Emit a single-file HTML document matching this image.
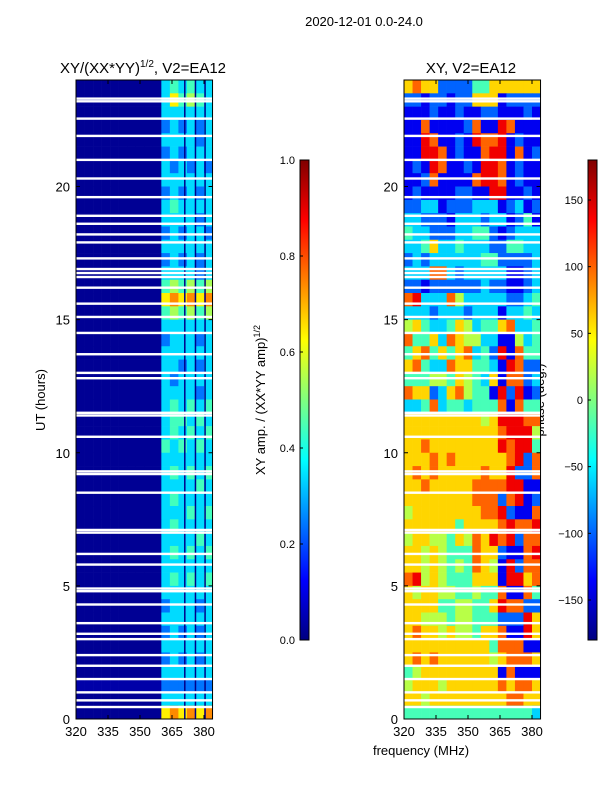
<!DOCTYPE html>
<html><head><meta charset="utf-8"><style>
body{margin:0;background:#fff;font-family:"Liberation Sans",sans-serif;}
svg text{font-family:"Liberation Sans",sans-serif;fill:#000;}
</style></head><body>
<svg id="fig" width="600" height="800" xmlns="http://www.w3.org/2000/svg">
<text x="364" y="26" font-size="13" text-anchor="middle">2020-12-01 0.0-24.0</text>
<text x="143" y="73" font-size="15" text-anchor="middle">XY/(XX*YY)<tspan font-size="10" dy="-6">1/2</tspan><tspan dy="6">, V2=EA12</tspan></text>
<text x="471" y="73" font-size="15" text-anchor="middle">XY, V2=EA12</text>
<text transform="translate(45,400) rotate(-90)" font-size="13" text-anchor="middle">UT (hours)</text>
<text transform="translate(265,400) rotate(-90)" font-size="13" text-anchor="middle">XY amp. / (XX*YY amp)<tspan font-size="9" dy="-5">1/2</tspan></text>
<text transform="translate(544,400) rotate(-90)" font-size="13" text-anchor="middle">phase (deg.)</text>
<text x="421" y="755" font-size="13" text-anchor="middle">frequency (MHz)</text>
<defs>
<linearGradient id="jet" x1="0" y1="1" x2="0" y2="0">
<stop offset="0" stop-color="#000080"/><stop offset="0.125" stop-color="#0000ff"/><stop offset="0.375" stop-color="#00ffff"/><stop offset="0.625" stop-color="#ffff00"/><stop offset="0.875" stop-color="#ff0000"/><stop offset="1" stop-color="#800000"/>
</linearGradient>
</defs>
<g id="left"></g><g id="right"></g>
<rect x="300" y="160" width="9" height="480" fill="url(#jet)" stroke="#000" stroke-width="1"/>
<rect x="588" y="160" width="9" height="480" fill="url(#jet)" stroke="#000" stroke-width="1"/>
<g id="cb"></g>
</svg>
<script>
const hourTicks=[0,5,10,15,20];
const freqTicks=[320,335,350,365,380];
const ampTicks=[0.0,0.2,0.4,0.6,0.8,1.0];
const phaseTicks=[-150,-100,-50,0,50,100,150];
const freqEdges=[320,324,328,332,336,340,344,348,352,356,360,364,368,372,376,380,384];
const flaggedHours=[23.3,23.2,22.55,21.9,21.0,20.3,19.6,18.9,18.6,18.2,17.9,17.3,16.9,16.75,16.6,16.2,15.6,15.1,14.5,13.7,13.0,12.8,11.5,11.4,10.6,9.3,9.2,8.5,7.1,7.0,6.2,5.8,4.9,4.8,4.3,3.6,3.2,3.0,2.4,2.0,1.5,1.0,0.7,0.45];
const ampLineChans=[371,376,380.5];
// rows from 24h (top) to 0h, each 0.5 h; digit d -> amp ~ d/10
const ampRows=["0000000000454544","0000000000475654","0000000000444444","0000000000343434","0000000000444434","0000000000343444","0000000000434343","0000000000444444","0000000000343434","0000000000454444","0000000000444434","0000000000343443","0000000000444444","0000000000343434","0000000000444434","0000000000565656","0000000000787878","0000000000565656","0000000000444444","0000000000344434","0000000000444444","0000000000443434","0000000000434444","0000000000444434","0000000000454545","0000000000455454","0000000000454545","0000000000545454","0000000000444444","0000000000454545","0000000000444454","0000000000454444","0000000000444545","0000000000454444","0000000000444454","0000000000454545","0000000000444444","0000000000454545","0000000000444444","0000000000344434","0000000000444444","0000000000343434","0000000000444444","0000000000343434","0000000000444444","1111111111333333","0000000000444444","0000000000787878"];
// digit d -> phase -180 + d*40
const phaseRows=["6766222244666666","2212212266612222","1112112112211121","1171111271187111","1187112187781211","1188712117881712","1218711218871211","1127111178871211","1211112211881121","2233122233312312","3322213332331241","4332223344212333","3346334333224433","2323333334422223","3337732333331123","2212222223221123","7833375333332234","3332333233313343","5643346534467334","7446376553311534","4674646734281744","6743376644318722","4445546543617723","7662367544182812","3347344344471744","6666666665688877","6666666666678885","6676666666687884","6667676666667827","6767666667668227","6676666677778811","6666666677727812","5666666667782117","6666664666678778","5665546576878277","6656544476621178","6656545476518277","7856544466618867","6566554454471174","6666445544687722","6655545544422286","6766565546671186","6666666666477711","6767666666567776","4566666666617111","5666566666676776","6656666666667766","4444444444444443"];

function jet(v){v=Math.max(0,Math.min(1,v));
 const r=Math.min(4*v-1.5,-4*v+4.5),g=Math.min(4*v-0.5,-4*v+3.5),b=Math.min(4*v+0.5,-4*v+2.5);
 const c=x=>Math.round(255*Math.max(0,Math.min(1,x)));return `rgb(${c(r)},${c(g)},${c(b)})`;}
const NS="http://www.w3.org/2000/svg";
const Y0=719,Y1=80,PX_PER_MHZ=32/15;
function yH(h){return Y0-(Y0-Y1)*h/24;}
function mk(tag,attrs,parent){const e=document.createElementNS(NS,tag);for(const k in attrs)e.setAttribute(k,attrs[k]);parent.appendChild(e);return e;}
function panel(gid,left,rows,valFn,name,lines){
 const g=document.getElementById(gid);
 const xF=f=>left+(f-320)*PX_PER_MHZ;
 const right=xF(384);
 rows.forEach((row,i)=>{const hTop=24-i*0.5,hBot=hTop-0.5;
  for(let j=0;j<row.length;j++){
   const x=xF(freqEdges[j]),w=xF(freqEdges[j+1])-x;
   const r=mk('rect',{x:x,y:yH(hTop),width:w+0.3,height:yH(hBot)-yH(hTop)+0.3,fill:jet(valFn(+row[j]))},g);
   
   
  }});
 lines.forEach(f=>{const l=mk('line',{x1:xF(f),x2:xF(f),y1:Y1,y2:Y0,stroke:'#00008a','stroke-width':1.5},g);
  
  });
 flaggedHours.forEach(h=>{const r=mk('rect',{x:left,y:yH(h)-1.2,width:right-left,height:2.4,fill:'#fff'},g);
  
  });
 const fr=mk('rect',{x:left,y:Y1,width:right-left,height:Y0-Y1,fill:'none',stroke:'#000','stroke-width':1},g);
 
 
 hourTicks.forEach(h=>{mk('line',{x1:left,x2:left+4,y1:yH(h),y2:yH(h),stroke:'#000'},g);
  mk('line',{x1:right-4,x2:right,y1:yH(h),y2:yH(h),stroke:'#000'},g);
  const t=mk('text',{x:left-6,y:yH(h)+5,'font-size':13,'text-anchor':'end'},g);t.textContent=h;
  
  });
 freqTicks.forEach(f=>{mk('line',{x1:xF(f),x2:xF(f),y1:Y0,y2:Y0-4,stroke:'#000'},g);
  mk('line',{x1:xF(f),x2:xF(f),y1:Y1,y2:Y1+4,stroke:'#000'},g);
  const t=mk('text',{x:xF(f),y:Y0+17,'font-size':13,'text-anchor':'middle'},g);t.textContent=f;
  
  });
}
panel('left',76,ampRows,d=>d===0?0.02:d/10-0.06,'amp',ampLineChans);
panel('right',404,phaseRows,d=>d/9,'phase',[]);
const cb=document.getElementById('cb');
ampTicks.forEach(v=>{const y=640-480*v;
 mk('line',{x1:300,x2:303,y1:y,y2:y,stroke:'#000'},cb);
 const t=mk('text',{x:295,y:y+4,'font-size':11,'text-anchor':'end'},cb);t.textContent=v.toFixed(1);
 
 });
phaseTicks.forEach(v=>{const y=640-480*(v+180)/360;
 mk('line',{x1:588,x2:591,y1:y,y2:y,stroke:'#000'},cb);
 const t=mk('text',{x:583,y:y+4,'font-size':11,'text-anchor':'end'},cb);t.textContent=v<0?'\u2212'+(-v):v;
 
 });
</script>
</body></html>
